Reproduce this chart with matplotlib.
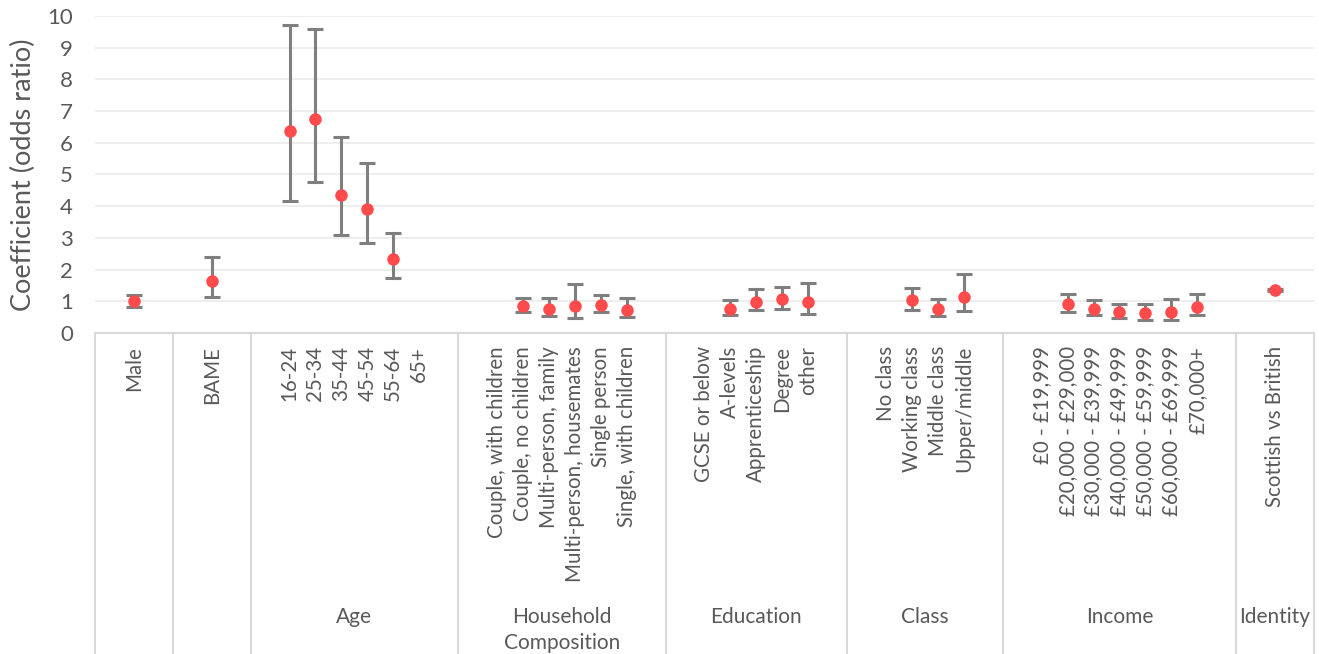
import matplotlib.pyplot as plt
import numpy as np

plt.rcParams['font.family'] = ['Lato', 'DejaVu Sans']

# Grupos del eje (nivel inferior) y etiquetas de cada categoría
group_names = ['', '', 'Age', 'Household\nComposition', 'Education', 'Class', 'Income', 'Identity']
group_slots = [3, 3, 8, 8, 7, 6, 9, 3]

male_labels = ['Male']
bame_labels = ['BAME']
age_labels = ['16-24', '25-34', '35-44', '45-54', '55-64', '65+']
household_labels = ['Couple, with children', 'Couple, no children', 'Multi-person, family',
                    'Multi-person, housemates', 'Single person', 'Single, with children']
education_labels = ['GCSE or below', 'A-levels', 'Apprenticeship', 'Degree', 'other']
class_labels = ['No class', 'Working class', 'Middle class', 'Upper/middle']
income_labels = ['£0 - £19,999', '£20,000 - £29,000', '£30,000 - £39,999', '£40,000 - £49,999',
                 '£50,000 - £59,999', '£60,000 - £69,999', '£70,000+']
identity_labels = ['Scottish vs British']

# Odds ratio y límites del intervalo (None = categoría de referencia)
male_or = [1.00]; male_lo = [0.82]; male_hi = [1.20]
bame_or = [1.65]; bame_lo = [1.14]; bame_hi = [2.40]
age_or = [6.36, 6.76, 4.36, 3.92, 2.34, None]
age_lo = [4.17, 4.77, 3.08, 2.84, 1.72, None]
age_hi = [9.72, 9.58, 6.17, 5.36, 3.16, None]
household_or = [None, 0.84, 0.76, 0.86, 0.89, 0.74]
household_lo = [None, 0.65, 0.53, 0.47, 0.65, 0.50]
household_hi = [None, 1.10, 1.09, 1.56, 1.21, 1.10]
education_or = [None, 0.77, 0.99, 1.07, 0.99]
education_lo = [None, 0.57, 0.71, 0.77, 0.61]
education_hi = [None, 1.04, 1.39, 1.45, 1.58]
class_or = [None, 1.03, 0.77, 1.15]
class_lo = [None, 0.74, 0.55, 0.69]
class_hi = [None, 1.43, 1.07, 1.87]
income_or = [None, 0.92, 0.77, 0.65, 0.63, 0.67, 0.83]
income_lo = [None, 0.67, 0.57, 0.46, 0.42, 0.42, 0.57]
income_hi = [None, 1.22, 1.05, 0.93, 0.93, 1.08, 1.22]
identity_or = [1.35]; identity_lo = [1.32]; identity_hi = [1.38]

all_labels = [male_labels, bame_labels, age_labels, household_labels,
              education_labels, class_labels, income_labels, identity_labels]
all_or = [male_or, bame_or, age_or, household_or, education_or, class_or, income_or, identity_or]
all_lo = [male_lo, bame_lo, age_lo, household_lo, education_lo, class_lo, income_lo, identity_lo]
all_hi = [male_hi, bame_hi, age_hi, household_hi, education_hi, class_hi, income_hi, identity_hi]

GRAY_TXT = '#595959'
LINE = '#D9D9D9'

fig = plt.figure(figsize=(13.19, 6.54), dpi=100)
ax = fig.add_axes([95 / 1319, 1 - 333 / 654, (1314 - 95) / 1319, (333 - 16) / 654])

total = sum(group_slots)
ax.set_xlim(0, total)
ax.set_ylim(0, 10)
ax.set_yticks(range(0, 11))
ax.tick_params(axis='y', length=0, pad=16, labelsize=16, labelcolor=GRAY_TXT)
ax.set_xticks([])
for s in ax.spines.values():
    s.set_visible(False)
ax.grid(axis='y', color='#EDEDED', linewidth=1.3)
ax.set_axisbelow(True)
ax.axhline(0, color=LINE, linewidth=1.5, clip_on=False)
ax.set_ylabel('Coefficient (odds ratio)', fontsize=19.5, color=GRAY_TXT, labelpad=8)

trans = ax.get_xaxis_transform()
y_bottom = -(654 - 333) / 317
y_cat = -(346 - 333) / 317
y_grp = -(607 - 333) / 317

start = 0
for name, slots, labels, ors, los, his in zip(group_names, group_slots, all_labels, all_or, all_lo, all_hi):
    ax.plot([start, start], [0, y_bottom], transform=trans, color=LINE, linewidth=1.5, clip_on=False)
    for i, lab in enumerate(labels):
        x = start + 1 + i + 0.5
        ax.text(x, y_cat, lab, transform=trans, rotation=90, ha='center', va='top',
                fontsize=14.8, color=GRAY_TXT)
        if ors[i] is not None:
            ax.errorbar(x, ors[i], yerr=[[ors[i] - los[i]], [his[i] - ors[i]]], fmt='none',
                        ecolor='#7F7F7F', elinewidth=2.2, capsize=6, capthick=2.2, zorder=3)
            ax.plot(x, ors[i], 'o', color='#FF4B4B', markersize=8, zorder=4)
    ax.text(start + slots / 2, y_grp, name, transform=trans, ha='center', va='top',
            fontsize=15, color=GRAY_TXT, linespacing=1.36)
    start += slots
ax.plot([start, start], [0, y_bottom], transform=trans, color=LINE, linewidth=1.5, clip_on=False)

plt.savefig('out.png', dpi=100)
